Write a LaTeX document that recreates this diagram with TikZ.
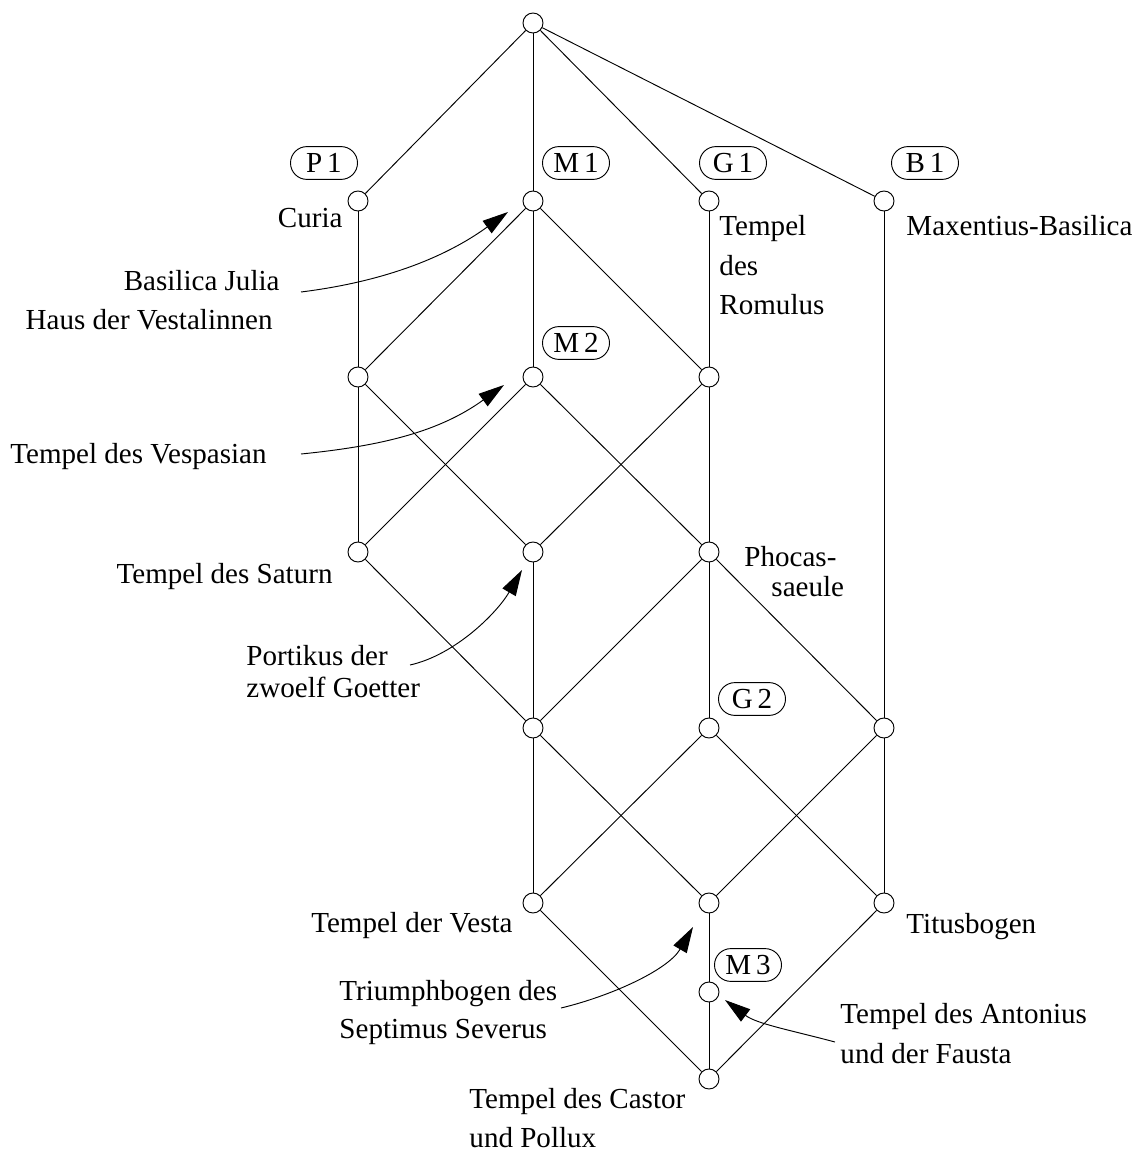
\documentclass[tikz,border=0pt]{standalone}
\usepackage{fontspec}
\setmainfont{Liberation Serif}
\usetikzlibrary{arrows.meta}
\tikzset{
  con/.style={circle,draw,fill=white,minimum size=0.3cm,inner sep=0pt},
  tag/.style={draw,rounded corners=7pt,minimum width=28.6pt,minimum height=14pt,inner sep=1pt},
  lbl/.style={inner sep=0pt},
  pointer/.style={-{Triangle[length=11pt,width=6.5pt]}}
}
\begin{document}
\begin{tikzpicture}[x=0.015cm,y=-0.015cm,font=\fontsize{12.4}{14}\selectfont]
	\useasboundingbox (0,0) rectangle (1131,1151);
	% lattice nodes
	\node[con] (top) at (533,23){};%0
	\node[con] (p1) at (358,201){};%Curia
	\node[con] (m1) at (533,201){};
	\node[con] (g1) at (709,201){};
	\node[con] (b1) at (884,201){};
	\node[con] (a2) at (358,377){};
	\node[con] (m2) at (533,377){};
	\node[con] (c2) at (709,377){};
	\node[con] (sat) at (358,552){};%Saturn
	\node[con] (port) at (533,552){};%Portikus
	\node[con] (phoc) at (709,552){};%Phocas
	\node[con] (d4) at (533,728){};
	\node[con] (g2) at (709,728){};
	\node[con] (e4) at (884,728){};
	\node[con] (vesta) at (533,903){};
	\node[con] (tri) at (709,903){};%Triumphbogen
	\node[con] (titus) at (884,903){};
	\node[con] (m3) at (709,992){};%Antonius
	\node[con] (castor) at (709,1079){};
	% edges
	\foreach \a/\b in {top/p1,top/m1,top/g1,top/b1,p1/a2,m1/a2,m1/m2,m1/c2,g1/c2,b1/e4,
		a2/sat,a2/port,m2/sat,m2/phoc,c2/port,c2/phoc,sat/d4,port/d4,phoc/d4,phoc/g2,phoc/e4,
		d4/vesta,d4/tri,g2/vesta,g2/titus,e4/tri,e4/titus,vesta/castor,tri/m3,m3/castor,titus/castor}
		\draw (\a) -- (\b);
	% attribute tags
	\node[tag] (tp1) at (324,163){P\,1};
	\node[tag] (tm1) at (576,163){M\,1};
	\node[tag] (tg1) at (733,163){G\,1};
	\node[tag] (tb1) at (925,163){B\,1};
	\node[tag] (tm2) at (576,343){M\,2};
	\node[tag] (tg2) at (752,699){G\,2};
	\node[tag] (tm3) at (748,965){M\,3};
	% object labels
	\node[lbl,anchor=base east] (lcuria) at (343,227){Curia};
	\node[lbl,anchor=base west] (lrom1) at (719,235){Tempel};
	\node[lbl,anchor=base west] (lrom2) at (719,275){des};
	\node[lbl,anchor=base west] (lrom3) at (719,314){Romulus};
	\node[lbl,anchor=base west] (lmax) at (906,235){Maxentius-Basilica};
	\node[lbl,anchor=base east] (ljul) at (280,290){Basilica Julia};
	\node[lbl,anchor=base east] (lhaus) at (273,329){Haus der Vestalinnen};
	\node[lbl,anchor=base east] (lvesp) at (267,463){Tempel des Vespasian};
	\node[lbl,anchor=base east] (lsat) at (333,583){Tempel des Saturn};
	\node[lbl,anchor=base west] (lphoc1) at (744,566){Phocas-};
	\node[lbl,anchor=base west] (lphoc2) at (771,596){saeule};
	\node[lbl,anchor=base west] (lport1) at (246,665){Portikus der};
	\node[lbl,anchor=base west] (lport2) at (246,697){zwoelf Goetter};
	\node[lbl,anchor=base east] (lvesta) at (513,932){Tempel der Vesta};
	\node[lbl,anchor=base west] (ltitus) at (906,933){Titusbogen};
	\node[lbl,anchor=base west] (ltri1) at (339,1000){Triumphbogen des};
	\node[lbl,anchor=base west] (ltri2) at (339,1038){Septimus Severus};
	\node[lbl,anchor=base west] (lant1) at (840,1023){Tempel des Antonius};
	\node[lbl,anchor=base west] (lant2) at (840,1063){und der Fausta};
	\node[lbl,anchor=base west] (lcas1) at (469,1108){Tempel des Castor};
	\node[lbl,anchor=base west] (lcas2) at (469,1147){und Pollux};
	% pointers
	\coordinate (jul0) at (301,292);
	\coordinate (jul1) at (508,212);
	\coordinate (vesp0) at (301,454);
	\coordinate (vesp1) at (504,385);
	\coordinate (port0) at (410,665);
	\coordinate (port1) at (522,570);
	\coordinate (tri0) at (561,1008);
	\coordinate (tri1) at (693,927);
	\coordinate (ant0) at (835,1042);
	\coordinate (ant1) at (725,1000);
	\draw[pointer] (jul0) .. controls +(80,-10) and +(-65,47) .. (jul1);
	\draw[pointer] (vesp0) .. controls +(80,-8) and +(-65,47) .. (vesp1);
	\draw[pointer] (port0) .. controls +(45,-10) and +(-25,43) .. (port1);
	\draw[pointer] (tri0) .. controls +(50,-12) and +(-25,43) .. (tri1);
	\draw[pointer] (ant0) .. controls +(-45,-12) and +(32,24) .. (ant1);
\end{tikzpicture}
\end{document}
